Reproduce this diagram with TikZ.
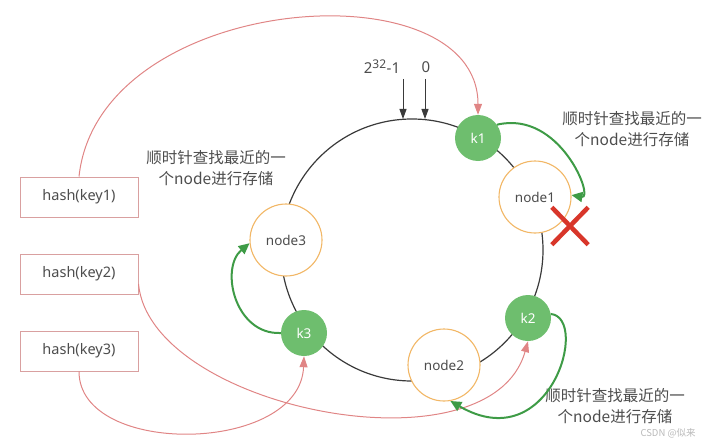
\documentclass[tikz,border=0pt]{standalone}
\usepackage{fontspec}
\setmainfont{Noto Sans}
\newfontfamily\cjk{Noto Sans CJK SC}
\usetikzlibrary{arrows.meta, positioning}

\definecolor{keygreen}{HTML}{6EBE6E}
\definecolor{findgreen}{HTML}{3E9B46}
\definecolor{serverorange}{HTML}{F2B766}
\definecolor{linepink}{HTML}{E08585}
\definecolor{boxpink}{HTML}{D9A0A0}
\definecolor{textgray}{HTML}{4D4D4D}
\definecolor{ringgray}{HTML}{3A3A3A}
\definecolor{crossred}{HTML}{D8362A}

\begin{document}
\begin{tikzpicture}[
    x=1pt, y=-1pt,
    node distance=36pt,
    hashbox/.style={rectangle, draw=boxpink, line width=1pt, fill=white, minimum width=118pt, minimum height=40pt, text=textgray, font=\fontsize{14.5}{16}\selectfont},
    keypoint/.style={circle, fill=keygreen, minimum size=46pt, inner sep=0pt, text=white, font=\fontsize{13.5}{15}\selectfont\bfseries},
    server/.style={circle, draw=serverorange, line width=1.1pt, fill=white, minimum size=72pt, inner sep=0pt, text=textgray, font=\fontsize{13.5}{15}\selectfont},
    note/.style={align=center, text=textgray, font=\cjk\fontsize{15.5}{21}\selectfont},
    hashline/.style={draw=linepink, line width=1pt, -{Triangle[length=11pt, width=8pt]}},
    findline/.style={draw=findgreen, line width=2pt, -{Triangle[length=11pt, width=10pt]}},
    markline/.style={draw=ringgray, line width=1pt, -{Triangle[length=10pt, width=7pt]}},
    crossline/.style={draw=crossred, line width=4.5pt}
]
    \useasboundingbox (0,0) rectangle (711,441);

    % --- HASH RING ---
    \node [circle, draw=ringgray, line width=1.2pt, minimum size=262pt, inner sep=0pt] (ring) at (412,250) {};

    \node [text=textgray, font=\fontsize{15}{16}\selectfont] (maxlabel) at (382,67) {2\textsuperscript{\fontsize{12}{12}\selectfont\textbf{32}}-1};
    \node [text=textgray, font=\fontsize{15}{16}\selectfont] (zerolabel) at (426,67) {0};
    \coordinate (maxtop) at (403,79);
    \coordinate (maxpt) at (403,119);
    \coordinate (zerotop) at (425,79);
    \coordinate (zeropt) at (425,119);

    % --- KEYS AND NODES ON THE RING ---
    \node [keypoint] (k1) at (478,138) {k1};
    \node [server] (node1) at (535,197) {node1};
    \node [keypoint] (k2) at (528,318) {k2};
    \node [server] (node2) at (444,365) {node2};
    \node [keypoint] (k3) at (304,333) {k3};
    \node [server] (node3) at (286,240) {node3};

    \node [minimum width=36pt, minimum height=37pt, inner sep=0pt] (cross) at (570,226) {};

    % --- HASH INPUTS ---
    \node [hashbox] (key1) at (79,197) {hash(key1)};
    \node [hashbox, below=of key1] (key2) {hash(key2)};
    \node [hashbox, below=of key2] (key3) {hash(key3)};

    % --- NOTES ---
    \node [note] (note1) at (216,168) {顺时针查找最近的一\\个node进行存储};
    \node [note] (note2) at (632,129) {顺时针查找最近的一\\个node进行存储};
    \node [note] (note3) at (615,406) {顺时针查找最近的一\\个node进行存储};
    \node [text=gray!55, font=\cjk\fontsize{9.5}{10}\selectfont] (mark) at (668,433) {CSDN @似来};

    % --- PATH CONNECTIONS ---
    \path [markline] (maxtop) -- (maxpt);
    \path [markline] (zerotop) -- (zeropt);

    \path [hashline] (key1.north) .. controls +(20,-185) and +(0,-150) .. (k1.north);
    \path [hashline] ([yshift=-10pt]key2.east) .. controls +(12,125) and +(-38,135) .. (k2.south);
    \path [hashline] (key3.south) .. controls +(0,86) and +(-4,98) .. (k3.south);

    \path [findline] (k1.35) .. controls +(63,-15) and +(23,4) .. (node1.3);
    \path [findline] (k2.10) .. controls +(39,4) and +(100,58) .. (node2.-80);
    \path [findline] (k3.180) .. controls +(-46,2) and +(-30,25) .. (node3.185);

    \path [crossline] (cross.north west) -- (cross.south east);
    \path [crossline] (cross.north east) -- (cross.south west);

\end{tikzpicture}
\end{document}
